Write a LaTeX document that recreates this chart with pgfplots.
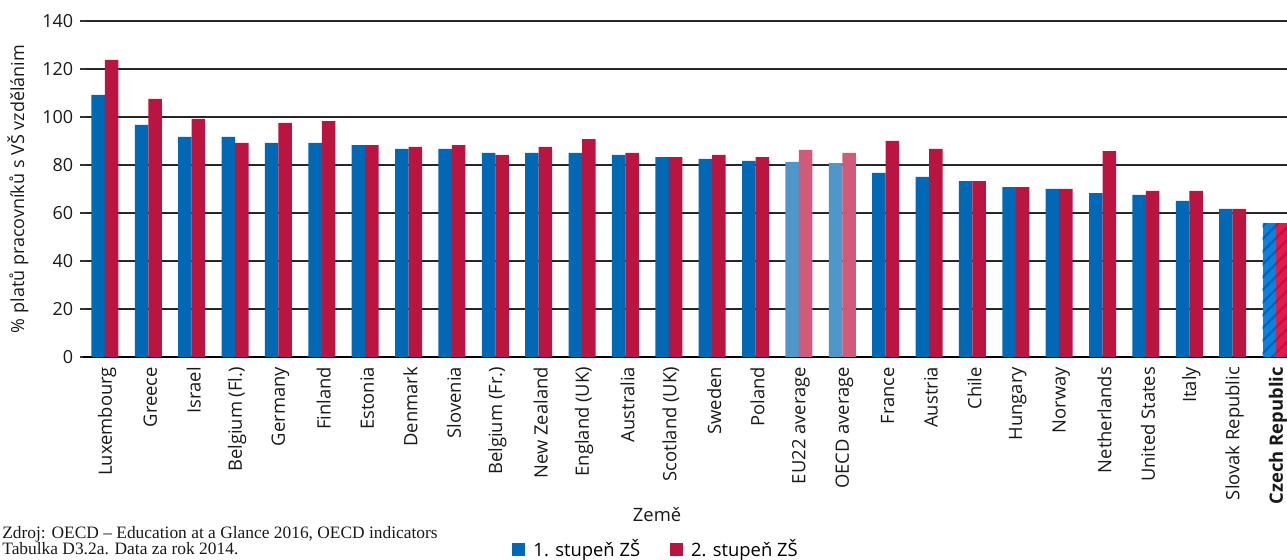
\documentclass[border=0pt]{standalone}
\usepackage{fontspec}
\setmainfont{Open Sans}
\newfontfamily\srcfont{Liberation Serif}
\usepackage{pgfplots}
\pgfplotsset{compat=1.18}
\usetikzlibrary{patterns.meta}
\definecolor{cblue}{RGB}{0,104,180}
\definecolor{cred}{RGB}{186,20,64}
\definecolor{lblue}{RGB}{79,151,203}
\definecolor{lred}{RGB}{208,90,121}
\definecolor{czblue}{RGB}{12,130,224}
\definecolor{czred}{RGB}{226,25,75}
\definecolor{czbluedk}{RGB}{0,98,178}
\definecolor{czreddk}{RGB}{186,20,64}
\begin{document}
\begin{tikzpicture}
\useasboundingbox (-41.65pt,-101.35pt) rectangle (601.85pt,178.5pt);
\begin{axis}[
  scale only axis, width=607.2pt, height=168pt,
  xmin=-0.5, xmax=27.5, ymin=0, ymax=140,
  ybar=0pt, bar width=6.75pt,
  clip=false,
  axis x line*=bottom, axis y line*=left,
  x axis line style={black, line width=1pt, -},
  y axis line style={draw=none},
  ytick={0,20,...,140},
  ymajorgrids, major grid style={black!85, line width=0.75pt},
  ytick style={black!80, line width=0.6pt},
  tick align=center, major tick length=3pt,
  xtick={0,...,27},
  xtick style={draw=none},
  xticklabels={Luxembourg,Greece,Israel,Belgium (Fl.),Germany,Finland,Estonia,Denmark,Slovenia,Belgium (Fr.),New Zealand,England (UK),Australia,Scotland (UK),Sweden,Poland,EU22 average,OECD average,France,Austria,Chile,Hungary,Norway,Netherlands,United States,Italy,Slovak Republic,{\bfseries Czech Republic}},
  xticklabel style={rotate=90, anchor=east, font=\fontsize{9.2}{11}\selectfont, text=black!90, yshift=-1pt},
  yticklabel style={font=\fontsize{9}{11}\selectfont, text=black!90},
  /pgf/number format/assume math mode=true,
  legend style={at={(0.4725,-0.5735)}, anchor=center, legend columns=2, draw=none, fill=none,
    font=\fontsize{9.2}{11}\selectfont, /tikz/every even column/.append style={column sep=13pt}},
]
\addplot[fill=cblue, draw=none, bar shift=-3.375pt,
  legend image code/.code={\fill[cblue] (0pt,-3.25pt) rectangle (6.5pt,3.25pt);}]
  coordinates {(0,109.2) (1,96.7) (2,91.7) (3,91.7) (4,89.2) (5,89.2) (6,88.3) (7,86.7) (8,86.7) (9,85.0) (10,85.0) (11,85.0) (12,84.2) (13,83.3) (14,82.5) (15,81.7) (18,76.7) (19,75.0) (20,73.3) (21,70.8) (22,70.0) (23,68.3) (24,67.5) (25,65.0) (26,61.7)};
\addlegendentry{\hspace{2pt}1. stupeň ZŠ}
\addplot[fill=cred, draw=none, bar shift=3.375pt,
  legend image code/.code={\fill[cred] (0pt,-3.25pt) rectangle (6.5pt,3.25pt);}]
  coordinates {(0,123.8) (1,107.5) (2,99.2) (3,89.2) (4,97.5) (5,98.3) (6,88.3) (7,87.5) (8,88.3) (9,84.2) (10,87.5) (11,90.8) (12,85.0) (13,83.3) (14,84.2) (15,83.3) (18,90.0) (19,86.7) (20,73.3) (21,70.8) (22,70.0) (23,85.8) (24,69.2) (25,69.2) (26,61.7)};
\addlegendentry{\hspace{2pt}2. stupeň ZŠ}
\addplot[fill=lblue, draw=none, bar shift=-3.375pt, forget plot]
  coordinates {(16,81.25) (17,80.8)};
\addplot[fill=lred, draw=none, bar shift=3.375pt, forget plot]
  coordinates {(16,86.25) (17,85.0)};
\addplot[fill=czblue, draw=none, bar shift=-3.375pt, forget plot,
  postaction={pattern={Lines[angle=45,distance=4.5pt,line width=1.1pt]}, pattern color=czbluedk}]
  coordinates {(27,55.8)};
\addplot[fill=czred, draw=none, bar shift=3.375pt, forget plot,
  postaction={pattern={Lines[angle=45,distance=4.5pt,line width=1.1pt]}, pattern color=czreddk}]
  coordinates {(27,55.8)};
\node[font=\fontsize{9.2}{11}\selectfont, text=black!90] at (rel axis cs:0.4725,-0.469) {Země};
\node[rotate=90, font=\fontsize{9}{11}\selectfont, text=black!90] at (rel axis cs:-0.0538,0.5) {\% platů pracovníků s VŠ vzdělánim};
\node[anchor=north west, align=left, inner sep=0pt, font=\srcfont\fontsize{8.7}{8.4}\selectfont, text=black!90] at (rel axis cs:-0.067,-0.502)
  {Zdroj: OECD – Education at a Glance 2016, OECD indicators\\Tabulka D3.2a. Data za rok 2014.};
\end{axis}
\end{tikzpicture}
\end{document}
